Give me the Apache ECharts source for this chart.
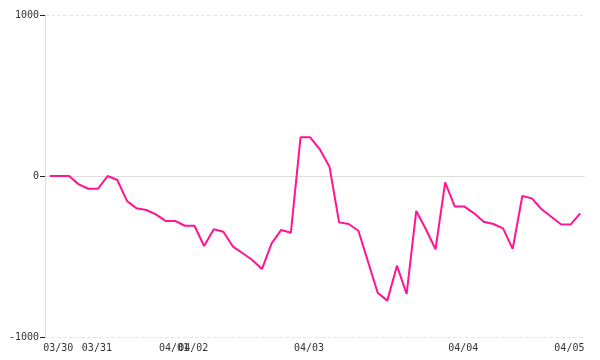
<!DOCTYPE html>
<html>
<head>
<meta charset="utf-8">
<script src="https://cdn.jsdelivr.net/npm/echarts@6/dist/echarts.min.js"></script>
<style>html,body{margin:0;padding:0;background:#fff}#c{width:600px;height:360px}</style>
</head>
<body>
<div id="c"></div>
<script>
// One category per sample; the day label is shown where the day changes.
const categories = [
  '03/30','03/30','03/30','03/30',
  '03/31','03/31','03/31','03/31','03/31','03/31','03/31','03/31',
  '04/01','04/01',
  '04/02','04/02','04/02','04/02','04/02','04/02','04/02','04/02','04/02','04/02','04/02','04/02',
  '04/03','04/03','04/03','04/03','04/03','04/03','04/03','04/03','04/03','04/03','04/03','04/03','04/03','04/03','04/03','04/03',
  '04/04','04/04','04/04','04/04','04/04','04/04','04/04','04/04','04/04','04/04','04/04',
  '04/05','04/05','04/05'
];
const values = [
  0, 0, 0, -52, -79, -79, 0, -25, -155, -201, -211, -238, -279, -279, -309, -309,
  -435, -331, -346, -439, -480, -522, -578, -418, -335, -352, 240, 240, 166, 58,
  -288, -298, -340, -532, -725, -774, -557, -733, -217, -331, -455, -39, -190, -190,
  -232, -284, -298, -325, -453, -124, -139, -207, -253, -300, -302, -232
];
const yTicks = [-1000, 0, 1000];

const chart = echarts.init(document.getElementById('c'));
chart.setOption({
  animation: false,
  grid: { left: 45, right: 15, top: 15, bottom: 23 },
  xAxis: {
    type: 'category',
    data: categories,
    boundaryGap: true,
    axisLine: { show: false, onZero: false },
    axisTick: { show: false },
    splitLine: { show: false },
    axisLabel: {
      interval: function (i) { return i === 0 || categories[i] !== categories[i - 1]; },
      color: '#333',
      fontFamily: 'DejaVu Sans Mono',
      fontSize: 10,
      margin: 6,
      padding: [0, 0, 0, 17]
    }
  },
  yAxis: {
    type: 'value',
    min: yTicks[0],
    max: yTicks[yTicks.length - 1],
    interval: 1000,
    axisLine: { show: true, lineStyle: { color: '#ddd' } },
    axisTick: { show: true, length: 5, lineStyle: { color: '#222' } },
    splitLine: { show: true, lineStyle: { color: '#e6e6e6', type: 'dashed' } },
    axisLabel: {
      color: '#333',
      fontFamily: 'DejaVu Sans Mono',
      fontSize: 10,
      margin: 6,
      formatter: function (v) { return String(v); }
    }
  },
  series: [{
    type: 'line',
    data: values,
    showSymbol: false,
    lineStyle: { color: '#ff1493', width: 2 },
    itemStyle: { color: '#ff1493' },
    z: 3,
    markLine: {
      silent: true,
      symbol: 'none',
      label: { show: false },
      lineStyle: { color: '#ddd', type: 'solid', width: 1 },
      z: 1,
      data: [{ yAxis: 0 }]
    }
  }]
});
</script>
</body>
</html>
